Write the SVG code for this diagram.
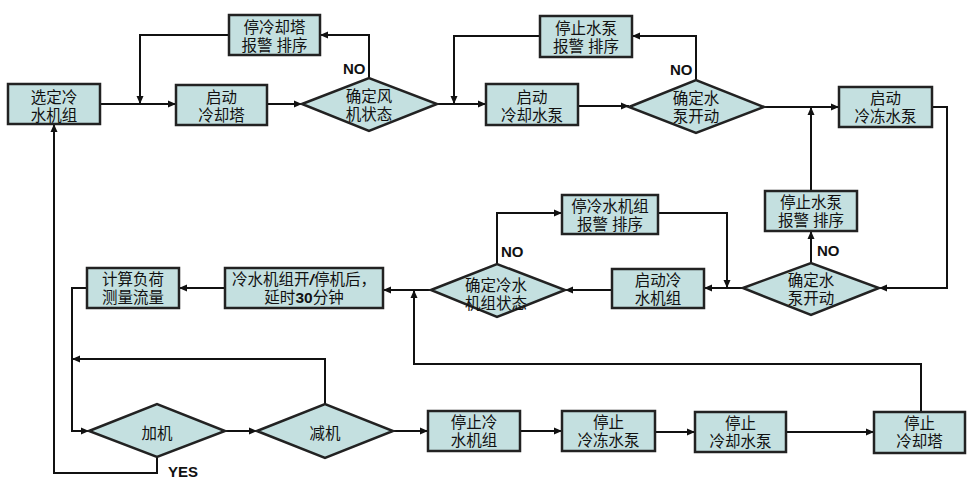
<svg xmlns="http://www.w3.org/2000/svg" width="980" height="491" viewBox="0 0 980 491">
<defs>
<marker id="ah" markerUnits="userSpaceOnUse" markerWidth="9" markerHeight="8" refX="8" refY="4" orient="auto">
<path d="M0,0.5 L8,4 L0,7.5 z" fill="#111"/>
</marker>
<style>
.box{fill:#c4e0e0;stroke:#222;stroke-width:2.5}
.t{font-family:"Liberation Serif","Noto Sans CJK SC",serif;font-size:15.5px;fill:#111;text-anchor:middle}
.lab{font-family:"Liberation Sans",Arial,sans-serif;font-weight:bold;font-size:15px;fill:#111}
.c{fill:none;stroke:#111;stroke-width:2;marker-end:url(#ah)}
.b{font-family:"Liberation Sans",Arial,sans-serif;font-weight:bold}
</style>
</defs>
<rect width="980" height="491" fill="#fff"/>

<g id="connectors">
<path class="c" d="M100,104 H176"/>
<path class="c" d="M229,35 H140 V104"/>
<path class="c" d="M267,104 H302"/>
<path class="c" d="M369,78 V35 H320"/>
<path class="c" d="M437,104 H486"/>
<path class="c" d="M540,36 H454 V104"/>
<path class="c" d="M578,106 H629"/>
<path class="c" d="M696,80 V36 H632"/>
<path class="c" d="M764,107 H839"/>
<path class="c" d="M811,191 V107"/>
<path class="c" d="M932,107 H947 V288 H879"/>
<path class="c" d="M811,263 V231"/>
<path class="c" d="M743,288 H704"/>
<path class="c" d="M658,213 H727 V288"/>
<path class="c" d="M612,290 H565"/>
<path class="c" d="M497,264 V213 H562"/>
<path class="c" d="M431,290 H383"/>
<path class="c" d="M921,412 V364 H414 V290"/>
<path class="c" d="M225,288 H179"/>
<path class="c" d="M87,288 H72 V431 H89"/>
<path class="c" d="M157,457 V473 H54 V124"/>
<path class="c" d="M225,431 H257"/>
<path class="c" d="M325,404 V359 H72"/>
<path class="c" d="M393,431 H428"/>
<path class="c" d="M520,431 H562"/>
<path class="c" d="M655,432 H695"/>
<path class="c" d="M786,432 H874"/>
<text class="lab" x="343" y="74">NO</text>
<text class="lab" x="670" y="75">NO</text>
<text class="lab" x="817" y="256">NO</text>
<text class="lab" x="501" y="257">NO</text>
<text class="lab" x="168" y="477">YES</text>
</g>

<g id="n_select">
<rect class="box" x="8" y="84" width="92" height="40"/>
<text class="t" x="54" y="103">选定冷</text>
<text class="t" x="54" y="121">水机组</text>
</g>
<g id="n_startTower">
<rect class="box" x="176" y="85" width="91" height="40"/>
<text class="t" x="221.5" y="103">启动</text>
<text class="t" x="221.5" y="121">冷却塔</text>
</g>
<g id="n_alarmTower">
<rect class="box" x="229" y="15" width="91" height="40"/>
<text class="t" x="274.5" y="33">停冷却塔</text>
<text class="t" x="274.5" y="51">报警 排序</text>
</g>
<g id="d_fan">
<polygon class="box" points="302,104 369,78 437,104 369,131"/>
<text class="t" x="369" y="102">确定风</text>
<text class="t" x="369" y="120">机状态</text>
</g>
<g id="n_startCWP">
<rect class="box" x="486" y="84" width="92" height="41"/>
<text class="t" x="532" y="103">启动</text>
<text class="t" x="532" y="121">冷却水泵</text>
</g>
<g id="n_alarmPump1">
<rect class="box" x="540" y="16" width="92" height="41"/>
<text class="t" x="586" y="34">停止水泵</text>
<text class="t" x="586" y="52">报警 排序</text>
</g>
<g id="d_pump1">
<polygon class="box" points="629,107 696,80 764,107 696,133"/>
<text class="t" x="696" y="104">确定水</text>
<text class="t" x="696" y="122">泵开动</text>
</g>
<g id="n_startChWP">
<rect class="box" x="839" y="87" width="93" height="40"/>
<text class="t" x="885.5" y="104">启动</text>
<text class="t" x="885.5" y="122">冷冻水泵</text>
</g>
<g id="n_alarmPump2">
<rect class="box" x="765" y="191" width="92" height="40"/>
<text class="t" x="811" y="208">停止水泵</text>
<text class="t" x="811" y="226">报警 排序</text>
</g>
<g id="d_pump2">
<polygon class="box" points="743,288 811,263 879,288 811,315"/>
<text class="t" x="811" y="286">确定水</text>
<text class="t" x="811" y="304">泵开动</text>
</g>
<g id="n_startChiller">
<rect class="box" x="612" y="269" width="92" height="39"/>
<text class="t" x="658" y="286">启动冷</text>
<text class="t" x="658" y="304">水机组</text>
</g>
<g id="n_alarmChiller">
<rect class="box" x="562" y="195" width="96" height="39"/>
<text class="t" x="610" y="212">停冷水机组</text>
<text class="t" x="610" y="230">报警 排序</text>
</g>
<g id="d_chiller">
<polygon class="box" points="431,290 497,264 565,290 497,317"/>
<text class="t" x="496" y="291">确定冷水</text>
<text class="t" x="496" y="309">机组状态</text>
</g>
<g id="n_delay">
<rect class="box" x="225" y="268" width="158" height="40"/>
<text class="t" x="304" y="285">冷水机组开<tspan class="b" font-style="italic">/</tspan>停机后，</text>
<text class="t" x="304" y="303">延时<tspan class="b">30</tspan>分钟</text>
</g>
<g id="n_calc">
<rect class="box" x="87" y="268" width="92" height="40"/>
<text class="t" x="133" y="285">计算负荷</text>
<text class="t" x="133" y="303">测量流量</text>
</g>
<g id="d_add">
<polygon class="box" points="89,431 157,404 225,431 157,457"/>
<text class="t" x="157" y="439">加机</text>
</g>
<g id="d_reduce">
<polygon class="box" points="257,431 325,404 393,431 325,458"/>
<text class="t" x="325" y="439">减机</text>
</g>
<g id="n_stopChiller">
<rect class="box" x="428" y="411" width="92" height="40"/>
<text class="t" x="474" y="428">停止冷</text>
<text class="t" x="474" y="446">水机组</text>
</g>
<g id="n_stopChWP">
<rect class="box" x="562" y="411" width="93" height="40"/>
<text class="t" x="608.5" y="428">停止</text>
<text class="t" x="608.5" y="446">冷冻水泵</text>
</g>
<g id="n_stopCWP">
<rect class="box" x="695" y="412" width="91" height="40"/>
<text class="t" x="740.5" y="429">停止</text>
<text class="t" x="740.5" y="447">冷却水泵</text>
</g>
<g id="n_stopTower">
<rect class="box" x="874" y="412" width="91" height="41"/>
<text class="t" x="919.5" y="429">停止</text>
<text class="t" x="919.5" y="447">冷却塔</text>
</g>
</svg>
